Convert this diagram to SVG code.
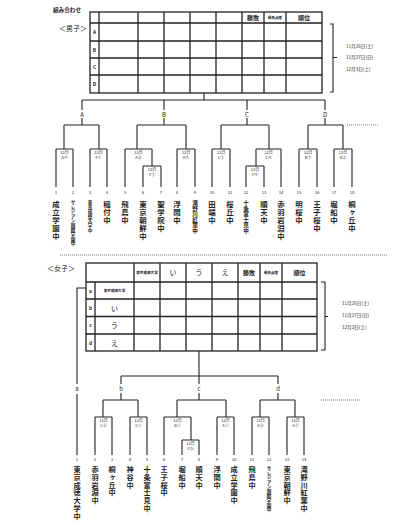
<svg xmlns="http://www.w3.org/2000/svg" width="400" height="528" viewBox="0 0 400 528">
<style>
.bg{fill:#fff}
.tb{stroke:#222;stroke-width:1.3;fill:none}
.ln{stroke:#222;stroke-width:1.1;fill:none}
.dt{stroke:#444;stroke-width:0.7;fill:none;stroke-dasharray:1 1}
.t{font-family:"Noto Sans CJK JP","Noto Sans",sans-serif;fill:#222}
.h{font-size:6px;font-weight:700;text-anchor:middle}
.hs{font-size:3.6px;font-weight:700;text-anchor:middle}
.lt{font-size:4.8px;font-weight:700;text-anchor:middle}
.ab{font-size:6px;text-anchor:middle}
.dte{font-size:4.6px}
.no{font-size:4.2px;text-anchor:middle}
.lb{font-size:4px;text-anchor:middle}
.nm{font-size:7.4px;font-weight:700;writing-mode:vertical-rl;letter-spacing:0.8px}
.nm2{font-size:7.2px;font-weight:700;writing-mode:vertical-rl;letter-spacing:0.5px}
.ns{font-size:4.6px;font-weight:700;writing-mode:vertical-rl}
.nmd{font-size:5.6px;font-weight:700;writing-mode:vertical-rl}
</style>
<rect class="bg" x="0" y="0" width="400" height="528"/>

<!-- Titles -->
<text class="t" x="53" y="12" font-size="5.6" font-weight="700">組み合わせ</text>
<text class="t" x="59" y="31" font-size="7">＜男子＞</text>
<text class="t" x="47" y="271" font-size="7">＜女子＞</text>

<!-- Boys table -->
<g id="boys-table">
<rect class="tb" x="90" y="12" width="232" height="81"/>
<path class="tb" d="M90,23H322M90,41H322M90,58H322M90,75H322M99,12V93M138,12V93M164,12V93M190,12V93M216,12V93M242,12V93M264,12V93M286,12V93"/>
<text class="t h" x="253" y="20">勝敗</text>
<text class="t hs" x="275" y="19">得失点差</text>
<text class="t h" x="304" y="20">順位</text>
<text class="t lt" x="94.5" y="34">A</text>
<text class="t lt" x="94.5" y="51.5">B</text>
<text class="t lt" x="94.5" y="68.5">C</text>
<text class="t lt" x="94.5" y="86">D</text>
<path class="ln" d="M330,24H333V92H330M333,57.5H337"/>
<text class="t dte" x="346" y="47.5">11月26日(土)</text>
<text class="t dte" x="346" y="59">11月27日(日)</text>
<text class="t dte" x="346" y="70.5">12月3日(土)</text>
</g>

<!-- separator -->
<path class="dt" d="M60,255H387"/>

<!-- Girls table -->
<g id="girls-table">
<rect class="tb" x="86" y="263" width="231" height="88"/>
<path class="tb" d="M86,282H317M86,299H317M86,316.5H317M86,334H317M95,282V351M134,263V351M160,263V351M186,263V351M212,263V351M238,263V351M260,263V351M282,263V351"/>
<text class="t hs" x="147" y="274">東京成徳大学</text>
<text class="t" x="173" y="275" font-size="7" text-anchor="middle">い</text>
<text class="t" x="199" y="275" font-size="7" text-anchor="middle">う</text>
<text class="t" x="225" y="275" font-size="7" text-anchor="middle">え</text>
<text class="t h" x="249" y="275">勝敗</text>
<text class="t hs" x="271" y="274">得失点差</text>
<text class="t h" x="299.5" y="275">順位</text>
<text class="t lt" x="90.5" y="292.5">a</text>
<text class="t lt" x="90.5" y="309.5">b</text>
<text class="t lt" x="90.5" y="327">c</text>
<text class="t lt" x="90.5" y="344.5">d</text>
<text class="t hs" x="114.5" y="292">東京成徳大学</text>
<text class="t" x="114.5" y="310.5" font-size="7" text-anchor="middle">い</text>
<text class="t" x="114.5" y="328" font-size="7" text-anchor="middle">う</text>
<text class="t" x="114.5" y="345.5" font-size="7" text-anchor="middle">え</text>
<path class="ln" d="M321,282H325V350H321M325,316.5H328"/>
<text class="t dte" x="342" y="305">11月26日(土)</text>
<text class="t dte" x="342" y="316.5">11月27日(日)</text>
<text class="t dte" x="342" y="329">12月3日(土)</text>
</g>

<!-- Connectors -->
<g id="connectors">
<!-- boys -->
<path class="ln" d="M204,93V100M82,100H325M82,100V110M164,100V110M247,100V110M325,100V110M82,118V125M164,118V125M247,118V125M325,118V125"/>
<path class="ln" d="M64,125H99M64,125V149M99,125V149M56,149H73M56,149V187M73,149V187M90,149H107M90,149V187M107,149V187"/>
<path class="ln" d="M137,125H186M137,125V149M186,125V149M125,149H152M125,149V187M152,149V166M143,166H161M143,166V187M161,166V187M177,149H195M177,149V187M195,149V187"/>
<path class="ln" d="M221,125H269M221,125V149M269,125V149M212,149H230M212,149V187M230,149V187M256,149H281M256,149V166M281,149V187M246,166H264M246,166V187M264,166V187"/>
<path class="ln" d="M308,125H343M308,125V149M343,125V149M299,149H317M299,149V187M317,149V187M334,149H352M334,149V187M352,149V187"/>
<path class="dt" d="M347,125H378"/>
<!-- girls -->
<path class="ln" d="M86,288H77V384M77,394V455M199,351V376M121,376H278M121,376V384M199,376V384M278,376V384M121,393V400M199,393V400M278,393V400"/>
<path class="ln" d="M103,400H138M103,400V417M138,400V417M95,417H112M95,417V455M112,417V455M130,417H147M130,417V455M147,417V455"/>
<path class="ln" d="M177,400H226M177,400V417M226,400V417M164,417H191M164,417V455M191,417V440M182,440H199M182,440V455M199,440V455M217,417H234M217,417V455M234,417V455"/>
<path class="ln" d="M260,400H295M260,400V417M295,400V417M252,417H269M252,417V455M269,417V455M287,417H304M287,417V455M304,417V455"/>
<path class="dt" d="M321,400H360"/>
</g>

<!-- Bracket labels -->
<g id="boys-pool-labels">
<text class="t ab" x="82" y="116.5">A</text>
<text class="t ab" x="164" y="116.5">B</text>
<text class="t ab" x="247" y="116.5">C</text>
<text class="t ab" x="325" y="116.5">D</text>
</g>
<g id="girls-pool-labels">
<text class="t ab" x="77" y="391">a</text>
<text class="t ab" x="121" y="391">b</text>
<text class="t ab" x="199" y="391">c</text>
<text class="t ab" x="278" y="391">d</text>
</g>

<!-- Boys match labels -->
<g id="boys-matches">
<text class="t lb" x="64.5" y="154">12日</text><text class="t lb" x="64.5" y="158.5">A④</text>
<text class="t lb" x="98.5" y="154">12日</text><text class="t lb" x="98.5" y="158.5">F①</text>
<text class="t lb" x="138.5" y="154">12日</text><text class="t lb" x="138.5" y="158.5">A⑤</text>
<text class="t lb" x="152" y="171">12日</text><text class="t lb" x="152" y="175.5">F③</text>
<text class="t lb" x="186" y="154">12日</text><text class="t lb" x="186" y="158.5">A⑥</text>
<text class="t lb" x="221" y="154">12日</text><text class="t lb" x="221" y="158.5">C③</text>
<text class="t lb" x="268.5" y="154">12日</text><text class="t lb" x="268.5" y="158.5">C④</text>
<text class="t lb" x="255" y="171">12日</text><text class="t lb" x="255" y="175.5">F④</text>
<text class="t lb" x="308" y="154">12日</text><text class="t lb" x="308" y="158.5">B③</text>
<text class="t lb" x="343" y="154">12日</text><text class="t lb" x="343" y="158.5">B②</text>
</g>
<g id="girls-matches">
<text class="t lb" x="103.5" y="422">12日</text><text class="t lb" x="103.5" y="426.5">C②</text>
<text class="t lb" x="138.5" y="422">12日</text><text class="t lb" x="138.5" y="426.5">C①</text>
<text class="t lb" x="177.5" y="422">12日</text><text class="t lb" x="177.5" y="426.5">B①</text>
<text class="t lb" x="190.5" y="445">12日</text><text class="t lb" x="190.5" y="449.5">F⑤</text>
<text class="t lb" x="225.5" y="422">12日</text><text class="t lb" x="225.5" y="426.5">A①</text>
<text class="t lb" x="260.5" y="422">12日</text><text class="t lb" x="260.5" y="426.5">A②</text>
<text class="t lb" x="295.5" y="422">12日</text><text class="t lb" x="295.5" y="426.5">A③</text>
</g>

<!-- Boys teams -->
<g id="b1"><text class="t no" x="56" y="194">1</text><text class="t nm" x="56" y="200">成立学園中</text></g>
<g id="b2"><text class="t no" x="73" y="194">2</text><text class="t ns" x="73" y="200">サレジアン国際学園中</text></g>
<g id="b3"><text class="t no" x="90" y="194">3</text><text class="t ns" x="90" y="200">東京成徳大学中</text></g>
<g id="b4"><text class="t no" x="107" y="194">4</text><text class="t nm" x="107" y="200">稲付中</text></g>
<g id="b5"><text class="t no" x="125" y="194">5</text><text class="t nm" x="125" y="200">飛鳥中</text></g>
<g id="b6"><text class="t no" x="143" y="194">6</text><text class="t nm" x="143" y="200">東京朝鮮中</text></g>
<g id="b7"><text class="t no" x="161" y="194">7</text><text class="t nm" x="161" y="200">聖学院中</text></g>
<g id="b8"><text class="t no" x="177" y="194">8</text><text class="t nm" x="177" y="200">浮間中</text></g>
<g id="b9"><text class="t no" x="195" y="194">9</text><text class="t nmd" x="195" y="200">滝野川紅葉中</text></g>
<g id="b10"><text class="t no" x="212" y="194">10</text><text class="t nm" x="212" y="200">田端中</text></g>
<g id="b11"><text class="t no" x="230" y="194">11</text><text class="t nm" x="230" y="200">桜丘中</text></g>
<g id="b12"><text class="t no" x="246" y="194">12</text><text class="t nmd" x="246" y="200">十条富士見中</text></g>
<g id="b13"><text class="t no" x="264" y="194">13</text><text class="t nm" x="264" y="200">順天中</text></g>
<g id="b14"><text class="t no" x="281" y="194">14</text><text class="t nm" x="281" y="200">赤羽岩淵中</text></g>
<g id="b15"><text class="t no" x="299" y="194">15</text><text class="t nm" x="299" y="200">明桜中</text></g>
<g id="b16"><text class="t no" x="317" y="194">16</text><text class="t nm" x="317" y="200">王子桜中</text></g>
<g id="b17"><text class="t no" x="334" y="194">17</text><text class="t nm" x="334" y="200">堀船中</text></g>
<g id="b18"><text class="t no" x="352" y="194">18</text><text class="t nm" x="352" y="200">桐ヶ丘中</text></g>

<!-- Girls teams -->
<g id="g1"><text class="t no" x="77" y="461">1</text><text class="t nm2" x="77" y="466">東京成徳大学中</text></g>
<g id="g2"><text class="t no" x="95" y="461">2</text><text class="t nm2" x="95" y="466">赤羽岩淵中</text></g>
<g id="g3"><text class="t no" x="112" y="461">3</text><text class="t nm2" x="112" y="466">桐ヶ丘中</text></g>
<g id="g4"><text class="t no" x="130" y="461">4</text><text class="t nm2" x="130" y="466">神谷中</text></g>
<g id="g5"><text class="t no" x="147" y="461">5</text><text class="t nm2" x="147" y="466">十条富士見中</text></g>
<g id="g6"><text class="t no" x="164" y="461">6</text><text class="t nm2" x="164" y="466">王子桜中</text></g>
<g id="g7"><text class="t no" x="182" y="461">7</text><text class="t nm2" x="182" y="466">堀船中</text></g>
<g id="g8"><text class="t no" x="199" y="461">8</text><text class="t nm2" x="199" y="466">順天中</text></g>
<g id="g9"><text class="t no" x="217" y="461">9</text><text class="t nm2" x="217" y="466">浮間中</text></g>
<g id="g10"><text class="t no" x="234" y="461">10</text><text class="t nm2" x="234" y="466">成立学園中</text></g>
<g id="g11"><text class="t no" x="252" y="461">11</text><text class="t nm2" x="252" y="466">飛鳥中</text></g>
<g id="g12"><text class="t no" x="269" y="461">12</text><text class="t ns" x="269" y="466">サレジアン国際学園中</text></g>
<g id="g13"><text class="t no" x="287" y="461">13</text><text class="t nm2" x="287" y="466">東京朝鮮中</text></g>
<g id="g14"><text class="t no" x="304" y="461">14</text><text class="t nm2" x="304" y="466">滝野川紅葉中</text></g>
</svg>
